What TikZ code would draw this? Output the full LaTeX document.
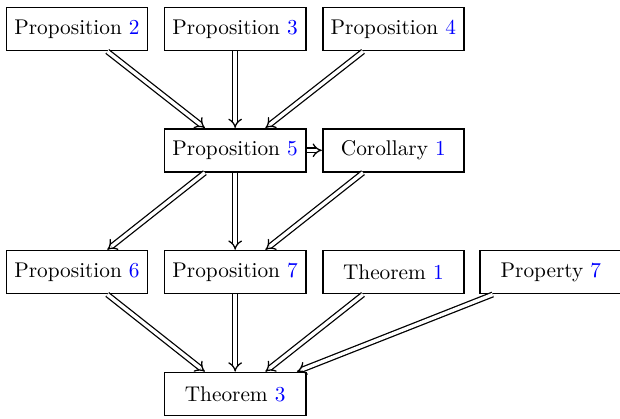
\documentclass[tikz,border=0pt]{standalone}
\usepackage{xcolor}
\usetikzlibrary{arrows.meta}

\begin{document}
\begin{tikzpicture}[
    result/.style={draw, thick, minimum width=2.33cm, minimum height=0.71cm, inner sep=2pt},
    num/.style={text=blue},
    implies/.style={double, double distance=1.6pt, -{Implies}, semithick}
]
\useasboundingbox (0,0) rectangle (10.23,-6.91);
\node[result] at (1.27,-0.48) (p2) {Proposition \textcolor{blue}{2}};
\node[result] at (3.88,-0.48) (p3) {Proposition \textcolor{blue}{3}};
\node[result] at (6.49,-0.48) (p4) {Proposition \textcolor{blue}{4}};

\node[result] at (3.88,-2.48) (p5) {Proposition \textcolor{blue}{5}};
\node[result] at (6.49,-2.48) (c1) {Corollary \textcolor{blue}{1}};

\node[result] at (1.27,-4.49) (p6) {Proposition \textcolor{blue}{6}};
\node[result] at (3.88,-4.49) (p7) {Proposition \textcolor{blue}{7}};
\node[result] at (6.49,-4.49) (t1) {Theorem \textcolor{blue}{1}};
\node[result] at (9.09,-4.49) (pty7) {Property \textcolor{blue}{7}};

\node[result] at (3.88,-6.50) (t3) {Theorem \textcolor{blue}{3}};

% first level
\draw[implies] ([xshift=0.5cm]p2.south) -- ([xshift=-0.5cm]p5.north);
\draw[implies] (p3) -- (p5);
\draw[implies] ([xshift=-0.5cm]p4.south) -- ([xshift=0.5cm]p5.north);
\draw[implies] (p5) -- (c1);

% second level
\draw[implies] ([xshift=-0.5cm]p5.south) -- ([xshift=0.5cm]p6.north);
\draw[implies] (p5) -- (p7);
\draw[implies] ([xshift=-0.5cm]c1.south) -- ([xshift=0.5cm]p7.north);

% third level
\draw[implies] ([xshift=0.5cm]p6.south) -- ([xshift=-0.5cm]t3.north);
\draw[implies] (p7) -- (t3);
\draw[implies] ([xshift=-0.5cm]t1.south) -- ([xshift=0.5cm]t3.north);
\draw[implies] ([xshift=-0.96cm]pty7.south) -- ([xshift=1.02cm]t3.north);
\end{tikzpicture}
\end{document}
